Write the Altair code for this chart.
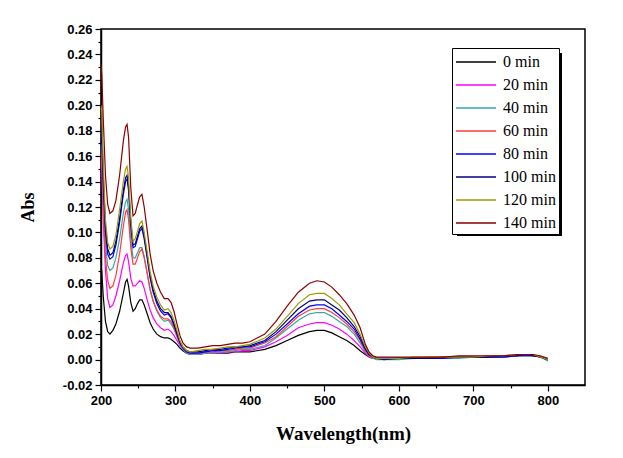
import altair as alt
import pandas as pd

WAVELENGTH = [200, 201, 203, 206, 209, 212, 216, 220, 225, 230, 233, 235, 237, 240, 243,
              246, 249, 252, 255, 258, 262, 266, 270, 275, 280, 285, 290, 294, 298, 302,
              306, 310, 315, 320, 330, 340, 350, 360, 370, 380, 390,
              400, 420, 435, 450, 465, 480, 490, 500, 510, 520, 530, 540, 548, 555, 560, 565, 570,
              580, 600, 620, 640, 660, 680, 700, 720, 740, 760, 770, 780, 790, 800]

SERIES = ["0 min", "20 min", "40 min", "60 min", "80 min", "100 min", "120 min", "140 min"]
COLORS = ["#000000", "#FF00FF", "#3AA6A6", "#FF3B3B", "#0000FF", "#000080", "#9C9C00", "#8B0000"]

ABS_0 = [.073, .070, .050, .030, .022, .020, .023, .028, .038, .052, .061, .063, .058, .045, .038,
         .040, .044, .047, .047, .043, .036, .029, .024, .020, .018, .017, .017, .016, .014, .012,
         .009, .007, .005, .004, .004, .005, .005, .005, .005, .006, .006,
         .006, .008, .011, .015, .019, .022, .023, .023, .021, .018, .015, .011, .007, .004, .002, .001, .001,
         .001, .001, .001, .001, .001, .002, .002, .002, .002, .003, .003, .003, .002, .000]
ABS_20 = [.158, .150, .110, .070, .048, .041, .043, .050, .062, .076, .082, .083, .077, .064, .058,
          .058, .060, .062, .061, .056, .047, .039, .033, .028, .025, .023, .024, .022, .019, .015,
          .011, .008, .006, .005, .004, .005, .005, .005, .006, .006, .007,
          .007, .010, .014, .019, .025, .028, .029, .029, .027, .024, .020, .015, .010, .005, .002, .001, .001,
          .001, .001, .001, .001, .002, .002, .002, .002, .003, .003, .004, .003, .002, .000]
ABS_40 = [.170, .165, .130, .090, .074, .070, .072, .080, .095, .115, .124, .126, .118, .095, .080,
          .080, .084, .088, .088, .081, .068, .055, .046, .038, .033, .030, .031, .028, .024, .018,
          .012, .008, .005, .004, .004, .005, .005, .006, .006, .007, .008,
          .008, .011, .017, .024, .031, .036, .037, .037, .034, .030, .026, .020, .013, .006, .003, .001, .000,
          .000, .000, .001, .001, .001, .001, .002, .002, .002, .003, .003, .003, .002, -.001]
ABS_60 = [.165, .160, .120, .080, .062, .056, .058, .066, .083, .105, .116, .118, .110, .088, .075,
          .075, .080, .085, .087, .080, .068, .055, .046, .039, .034, .032, .032, .030, .025, .019,
          .013, .009, .006, .005, .005, .006, .006, .007, .007, .008, .009,
          .009, .013, .018, .026, .034, .039, .040, .040, .037, .033, .028, .022, .015, .007, .003, .002, .001,
          .001, .001, .001, .002, .002, .002, .002, .002, .003, .003, .004, .003, .002, .000]
ABS_80 = [.180, .175, .140, .100, .083, .079, .081, .090, .108, .130, .140, .142, .133, .105, .088,
          .089, .095, .101, .103, .095, .080, .064, .053, .044, .038, .035, .036, .033, .027, .020,
          .013, .009, .006, .005, .005, .006, .007, .007, .008, .009, .010,
          .010, .014, .020, .028, .036, .042, .043, .043, .040, .035, .030, .024, .016, .008, .004, .002, .001,
          .000, .001, .001, .001, .001, .002, .002, .002, .002, .003, .003, .003, .002, .000]
ABS_100 = [.190, .183, .145, .104, .087, .082, .084, .093, .111, .133, .143, .145, .136, .108, .090,
           .091, .097, .103, .105, .097, .082, .066, .055, .046, .040, .037, .037, .034, .028, .021,
           .014, .010, .007, .006, .006, .007, .008, .008, .009, .010, .010,
           .011, .015, .022, .031, .040, .046, .047, .047, .043, .039, .033, .026, .018, .009, .004, .002, .001,
           .001, .001, .001, .001, .002, .002, .002, .002, .003, .003, .004, .003, .002, .000]
ABS_120 = [.200, .195, .155, .110, .092, .087, .089, .098, .118, .140, .150, .152, .143, .112, .093,
           .095, .101, .107, .109, .100, .085, .069, .058, .049, .043, .039, .040, .037, .031, .023,
           .015, .010, .007, .006, .007, .008, .008, .009, .010, .010, .011,
           .012, .017, .024, .034, .044, .051, .052, .052, .048, .043, .036, .029, .020, .010, .005, .002, .001,
           .001, .001, .002, .002, .002, .002, .002, .003, .003, .004, .004, .004, .002, .000]
ABS_140 = [.232, .225, .190, .145, .122, .115, .117, .125, .145, .172, .183, .185, .175, .135, .113,
           .115, .122, .128, .130, .120, .102, .083, .070, .060, .053, .048, .048, .045, .038, .028,
           .019, .013, .010, .009, .009, .010, .011, .011, .012, .013, .013,
           .014, .020, .030, .042, .053, .060, .062, .061, .057, .051, .044, .035, .025, .012, .006, .003, .002,
           .002, .002, .002, .002, .002, .003, .003, .003, .003, .004, .004, .004, .003, .001]

ALL = [ABS_0, ABS_20, ABS_40, ABS_60, ABS_80, ABS_100, ABS_120, ABS_140]

rows = []
for name, vals in zip(SERIES, ALL):
    for w, a in zip(WAVELENGTH, vals):
        rows.append({"wavelength": w, "abs": a, "series": name})
df = pd.DataFrame(rows)

X_TICKS = list(range(200, 801, 50))
Y_TICKS = [round(-0.02 + 0.01 * i, 2) for i in range(29)]

x_axis = alt.Axis(
    values=X_TICKS,
    labelExpr="datum.value % 100 === 0 ? datum.label : ''",
    format="d",
    tickSize={"condition": {"test": "datum.value % 100 === 0", "value": 6}, "value": 3},
    labelFont="Liberation Sans", labelFontWeight="bold", labelFontSize=13, labelColor="black",
    labelPadding=3, labelFlush=False,
    domainColor="black", domainWidth=1.5, tickColor="black", tickWidth=1.2, grid=False,
    titleFont="Liberation Serif", titleFontSize=19, titleFontWeight="bold", titleColor="black",
    titlePadding=17,
)
y_axis = alt.Axis(
    values=Y_TICKS,
    labelExpr="round(datum.value*100) % 2 === 0 ? replace(format(datum.value, '.2f'), '\u2212', '-') : ''",
    tickSize={"condition": {"test": "round(datum.value*100) % 2 === 0", "value": 6}, "value": 3},
    labelFont="Liberation Sans", labelFontWeight="bold", labelFontSize=13, labelColor="black",
    labelPadding=3, labelFlush=False,
    domainColor="black", domainWidth=1.5, tickColor="black", tickWidth=1.2, grid=False,
    titleFont="Liberation Serif", titleFontSize=18, titleFontWeight="bold", titleColor="black",
    titlePadding=25,
)

lines = alt.Chart(df).mark_line(strokeWidth=1.2, clip=True).encode(
    x=alt.X("wavelength:Q", title="Wavelength(nm)",
            scale=alt.Scale(domain=[200, 850], nice=False, zero=False), axis=x_axis),
    y=alt.Y("abs:Q", title="Abs",
            scale=alt.Scale(domain=[-0.02, 0.26], nice=False, zero=False), axis=y_axis),
    color=alt.Color("series:N", scale=alt.Scale(domain=SERIES, range=COLORS),
                    legend=alt.Legend(orient="none", legendX=351, legendY=19, title=None,
                                      symbolType="M-2,0H2", symbolSize=400, symbolStrokeWidth=1.5,
                                      symbolOffset=10, labelOffset=16,
                                      labelFont="Liberation Serif", labelFontSize=16, labelColor="black",
                                      labelLimit=0, strokeColor="black", fillColor="white",
                                      padding=3, rowPadding=4)),
)

shadow = alt.Chart(alt.Data(values=[{}])).mark_rect(color="black").encode(
    x=alt.value(356), x2=alt.value(461), y=alt.value(24), y2=alt.value(207)
)

chart = alt.layer(shadow, lines).properties(
    width=484, height=356,
    autosize=alt.AutoSizeParams(type="none"),
    padding={"left": 93, "top": 21, "right": 30, "bottom": 65},
).configure_view(stroke="black", strokeWidth=1.5)

chart.save("out.html", embed_options={"renderer": "svg", "actions": False})
